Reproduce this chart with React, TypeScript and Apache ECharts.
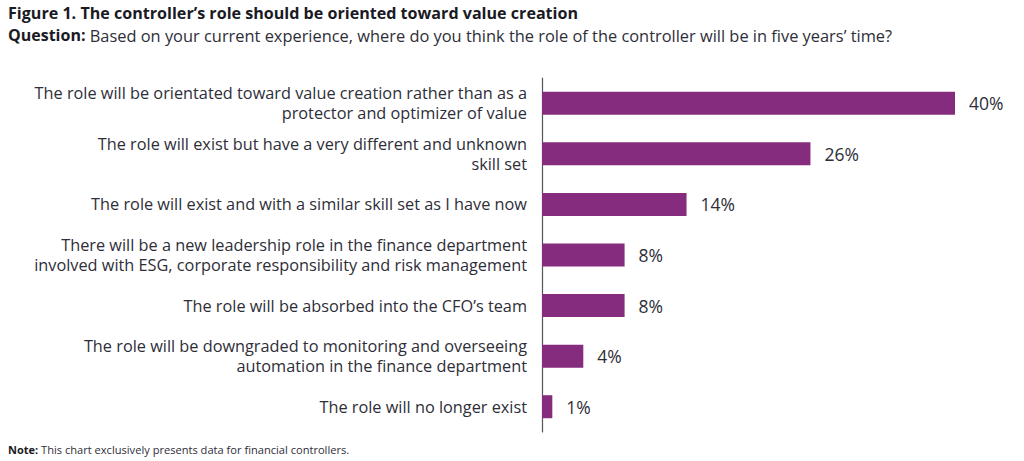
import React, { useEffect, useRef } from "react";
import * as echarts from "echarts";

const categories = [
  "The role will be orientated toward value creation rather than as a\nprotector and optimizer of value",
  "The role will exist but have a very different and unknown\nskill set",
  "The role will exist and with a similar skill set as I have now",
  "There will be a new leadership role in the finance department\ninvolved with ESG, corporate responsibility and risk management",
  "The role will be absorbed into the CFO’s team",
  "The role will be downgraded to monitoring and overseeing\nautomation in the finance department",
  "The role will no longer exist",
];
const values = [40, 26, 14, 8, 8, 4, 1];

const titleText = "Figure 1. The controller’s role should be oriented toward value creation";
const questionLabel = "Question:";
const questionText = " Based on your current experience, where do you think the role of the controller will be in five years’ time?";
const noteLabel = "Note:";
const noteText = " This chart exclusively presents data for financial controllers.";

const FONT = "'Open Sans', 'Noto Sans', sans-serif";

export default function App() {
  const ref = useRef<HTMLDivElement>(null);
  useEffect(() => {
    const chart = echarts.init(ref.current!, undefined, { renderer: "svg" });
    chart.setOption({
      animation: false,
      backgroundColor: "#ffffff",
      textStyle: { fontFamily: FONT },
      graphic: [
        {
          type: "text",
          left: 8,
          top: 5,
          style: { text: titleText, font: `bold 16.1px ${FONT}`, fill: "#1a1a24" },
        },
        {
          type: "text",
          left: 8,
          top: 27,
          style: {
            text: `{b|${questionLabel}}{n|${questionText}}`,
            rich: {
              b: { font: `bold 16px ${FONT}`, fill: "#1a1a24" },
              n: { font: `16.4px ${FONT}`, fill: "#2e2e38" },
            },
          },
        },
        {
          type: "text",
          left: 8,
          top: 444,
          style: {
            text: `{b|${noteLabel}}{n|${noteText}}`,
            rich: {
              b: { font: `bold 11px ${FONT}`, fill: "#1a1a24" },
              n: { font: `11.1px ${FONT}`, fill: "#2e2e38" },
            },
          },
        },
      ],
      grid: { left: 542, right: 69, top: 78, height: 354, containLabel: false },
      xAxis: {
        type: "value",
        min: 0,
        max: 40,
        show: false,
      },
      yAxis: {
        type: "category",
        inverse: true,
        data: categories,
        axisLine: { show: true, lineStyle: { color: "#555", width: 1.2 } },
        axisTick: { show: false },
        splitLine: { show: false },
        axisLabel: {
          margin: 15,
          align: "right",
          color: "#2e2e38",
          fontSize: 16.3,
          lineHeight: 20,
          fontFamily: FONT,
        },
      },
      series: [
        {
          type: "bar",
          data: values,
          barWidth: 23,
          itemStyle: { color: "#862C7E" },
          label: {
            show: true,
            position: "right",
            distance: 14,
            formatter: "{c}%",
            color: "#2e2e38",
            fontSize: 17.5,
            fontFamily: FONT,
          },
        },
      ],
    });
    return () => chart.dispose();
  }, []);
  return (
    <div
      ref={ref}
      style={{ position: "absolute", left: 0, top: 0, width: 1024, height: 461 }}
    />
  );
}
